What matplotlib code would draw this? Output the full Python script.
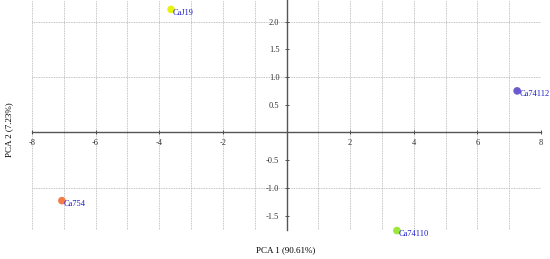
import matplotlib
matplotlib.use('Agg')
import matplotlib.pyplot as plt
from matplotlib.ticker import MultipleLocator, FixedLocator

names = ['CaJ19', 'Ca74112', 'Ca754', 'Ca74110']
pc1 = [-3.63, 7.25, -7.06, 3.47]
pc2 = [2.22, 0.75, -1.23, -1.77]
colors = ['#e8f20e', '#6a5acd', '#f47c48', '#9be83a']

plt.rcParams['font.family'] = ['Liberation Serif', 'DejaVu Serif']

fig = plt.figure(figsize=(5.5, 2.59), dpi=100)
ax = fig.add_axes([32 / 550, 1 - 230 / 259, 509 / 550, 230 / 259])

ax.scatter(pc1, pc2, c=colors, s=20, zorder=3, clip_on=False)
for x, y, n in zip(pc1, pc2, names):
    ax.annotate(n, (x, y), xytext=(1.5, -4), textcoords='offset points',
                color='#1a1acc', fontsize=6, zorder=4, annotation_clip=False)

ax.set_xlim(-8, 8)
ax.set_ylim(-1.76, 2.39)

# axes through the origin
ax.spines['left'].set_position(('data', 0))
ax.spines['bottom'].set_position(('data', 0))
ax.spines['right'].set_visible(False)
ax.spines['top'].set_visible(False)
for s in ['left', 'bottom']:
    ax.spines[s].set_color('#555555')
    ax.spines[s].set_linewidth(1.0)

ax.xaxis.set_major_locator(FixedLocator([-8, -6, -4, -2, 2, 4, 6, 8]))
ax.xaxis.set_minor_locator(MultipleLocator(1))
ax.yaxis.set_major_locator(FixedLocator([-1.5, -1.0, -0.5, 0.5, 1.0, 1.5, 2.0]))
ax.set_yticklabels(['-1.5', '-1.0', '-0.5', '0.5', '1.0', '1.5', '2.0'])
ax.set_xticklabels(['-8', '-6', '-4', '-2', '2', '4', '6', '8'])
ax.tick_params(axis='both', labelsize=6, length=3, width=0.6, colors='#333333',
               direction='inout')
ax.tick_params(axis='x', which='minor', length=0)

# grid: vertical every unit, horizontal at integer values only
for gx in range(-8, 9):
    ax.axvline(gx, color='#b0b0b0', lw=0.6, ls=(0, (1, 1)), zorder=0)
for gy in [-1, 1, 2]:
    ax.axhline(gy, color='#b0b0b0', lw=0.6, ls=(0, (1, 1)), zorder=0)

fig.text(286 / 550, 1 - 250 / 259, 'PCA 1 (90.61%)', ha='center', va='center',
         fontsize=6.5)
fig.text(9 / 550, 1 - 130 / 259, 'PCA 2 (7.23%)', ha='center', va='center',
         rotation=90, fontsize=6.5)

fig.savefig('out.png', dpi=100)
